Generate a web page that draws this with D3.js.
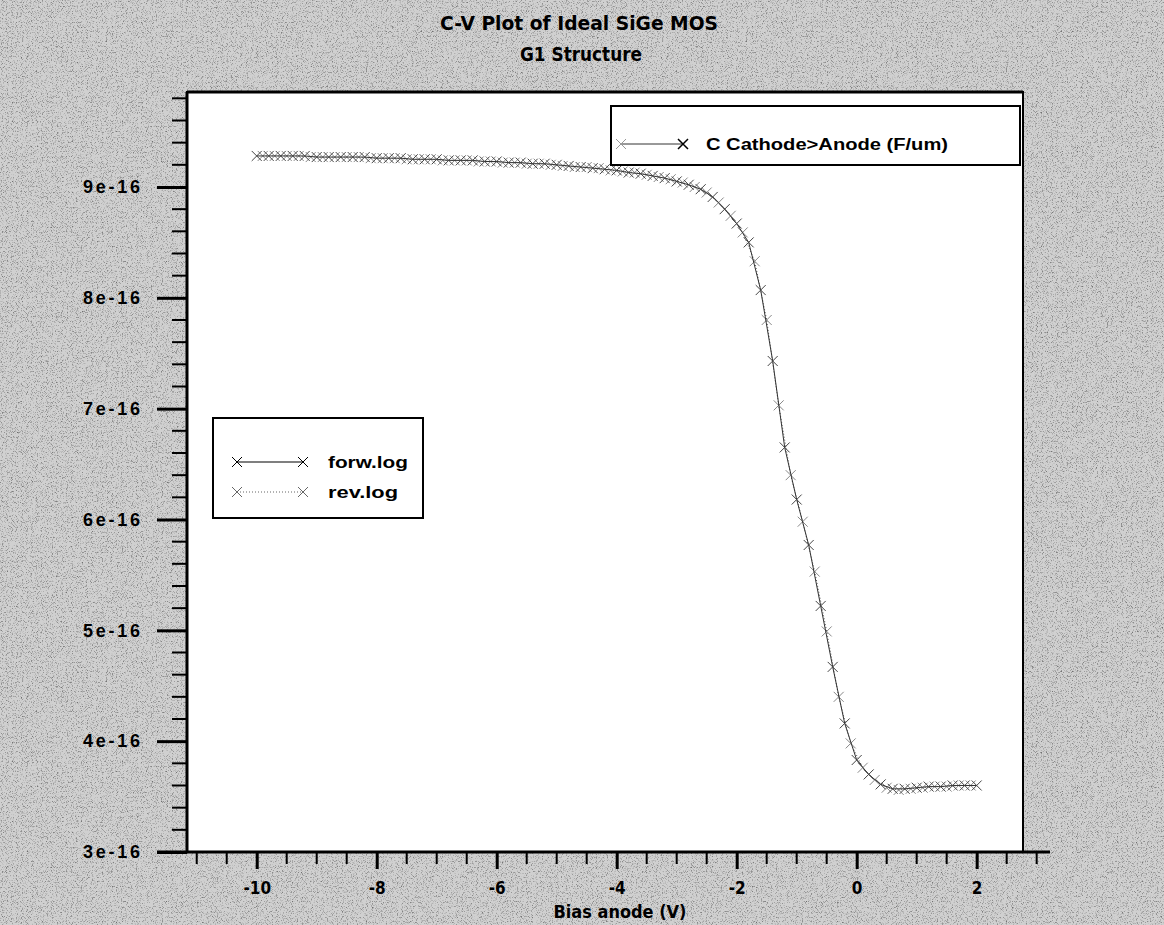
<!DOCTYPE html>
<html>
<head>
<meta charset="utf-8">
<script src="https://cdn.jsdelivr.net/npm/d3@7"></script>
<style>
  html, body { margin: 0; padding: 0; background: #c6c6c6; }
  svg { display: block; }
</style>
</head>
<body>
<svg id="chart" width="1164" height="925"></svg>
<script>
// forward sweep (forw.log), bias in V, capacitance in F/um
const forwBias = [-10, -9.8, -9.6, -9.4, -9.2, -9, -8.8, -8.6, -8.4, -8.2, -8, -7.8, -7.6, -7.4, -7.2, -7,
  -6.8, -6.6, -6.4, -6.2, -6, -5.8, -5.6, -5.4, -5.2, -5, -4.8, -4.6, -4.4, -4.2, -4, -3.8, -3.6, -3.4,
  -3.2, -3, -2.8, -2.6, -2.4, -2.2, -2, -1.8, -1.6, -1.4, -1.2, -1, -0.8, -0.6, -0.4, -0.2, 0, 0.2, 0.4,
  0.6, 0.8, 1, 1.2, 1.4, 1.6, 1.8, 2];
const forwCap = [9.28, 9.28, 9.28, 9.28, 9.28, 9.27, 9.27, 9.27, 9.27, 9.27, 9.26, 9.26, 9.26, 9.25, 9.25,
  9.25, 9.24, 9.24, 9.24, 9.23, 9.23, 9.22, 9.22, 9.21, 9.21, 9.20, 9.19, 9.18, 9.17, 9.16, 9.15, 9.13,
  9.12, 9.10, 9.08, 9.05, 9.02, 8.98, 8.91, 8.80, 8.67, 8.50, 8.07, 7.43, 6.65, 6.18, 5.77, 5.22, 4.67,
  4.16, 3.83, 3.70, 3.61, 3.57, 3.57, 3.58, 3.59, 3.59, 3.60, 3.60, 3.60].map(v => v * 1e-16);

// reverse sweep (rev.log)
const revBias = [1.9, 1.7, 1.5, 1.3, 1.1, 0.9, 0.7, 0.5, 0.3, 0.1, -0.1, -0.3, -0.5, -0.7, -0.9, -1.1,
  -1.3, -1.5, -1.7, -1.9, -2.1, -2.3, -2.5, -2.7, -2.9, -3.1, -3.3, -3.5, -3.7, -3.9, -4.1, -4.3, -4.5,
  -4.7, -4.9, -5.1, -5.3, -5.5, -5.7, -5.9, -6.1, -6.3, -6.5, -6.7, -6.9, -7.1, -7.3, -7.5, -7.7, -7.9,
  -8.1, -8.3, -8.5, -8.7, -8.9, -9.1, -9.3, -9.5, -9.7, -9.9];
const revCap = [3.60, 3.60, 3.59, 3.59, 3.58, 3.57, 3.56, 3.58, 3.65, 3.76, 3.98, 4.40, 4.99, 5.53, 5.98,
  6.40, 7.03, 7.80, 8.33, 8.59, 8.74, 8.86, 8.95, 9.00, 9.04, 9.07, 9.09, 9.11, 9.13, 9.14, 9.15, 9.17,
  9.18, 9.18, 9.19, 9.20, 9.21, 9.21, 9.22, 9.22, 9.23, 9.23, 9.24, 9.24, 9.24, 9.25, 9.25, 9.25, 9.26,
  9.26, 9.26, 9.27, 9.27, 9.27, 9.27, 9.27, 9.28, 9.28, 9.28, 9.28].map(v => v * 1e-16);

const xMajor = [-10, -8, -6, -4, -2, 0, 2];
const yMajor = [3e-16, 4e-16, 5e-16, 6e-16, 7e-16, 8e-16, 9e-16];
const xMinor = d3.range(-11, 3.01, 0.5).filter(v => !xMajor.includes(v));
const yMinor = d3.range(3.2, 9.81, 0.2).map(v => +v.toFixed(1)).filter(v => v % 1 !== 0).map(v => v * 1e-16);

const svg = d3.select("#chart");
const width = 1164, height = 925;
const frame = { left: 187, right: 1023, top: 92, bottom: 852 };

const narrow = "'Liberation Sans Narrow', 'DejaVu Sans Condensed', sans-serif";
const sans = "'Liberation Sans', Arial, sans-serif";

// grainy grey page, like the scanned halftone
const defs = svg.append("defs");
const grain = defs.append("filter").attr("id", "grain").attr("x", 0).attr("y", 0).attr("width", "100%").attr("height", "100%");
grain.append("feTurbulence").attr("type", "fractalNoise").attr("baseFrequency", 1.2).attr("numOctaves", 1).attr("seed", 3);
grain.append("feColorMatrix").attr("type", "matrix")
  .attr("values", "0 0 0 0 0  0 0 0 0 0  0 0 0 0 0  3 0 0 0 -1.55");

svg.append("rect").attr("width", width).attr("height", height).attr("fill", "#d0d0d0");
svg.append("rect").attr("width", width).attr("height", height).attr("filter", "url(#grain)").attr("opacity", 0.5);

const x = d3.scaleLinear().domain([-11.162, 2.772]).range([frame.left, frame.right]);
const y = d3.scaleLinear().domain([3e-16, 9.857e-16]).range([frame.bottom, frame.top]);

// plot frame
svg.append("rect")
  .attr("x", frame.left).attr("y", frame.top)
  .attr("width", frame.right - frame.left).attr("height", frame.bottom - frame.top)
  .attr("fill", "#fff").attr("stroke", "#000").attr("stroke-width", 2);
svg.append("line")
  .attr("x1", frame.left).attr("x2", frame.right).attr("y1", frame.top).attr("y2", frame.top)
  .attr("stroke", "#000").attr("stroke-width", 3);

// titles
svg.append("text").attr("x", 579).attr("y", 30).attr("text-anchor", "middle")
  .attr("textLength", 278).attr("lengthAdjust", "spacingAndGlyphs")
  .style("font-family", narrow).style("font-weight", "bold").style("font-size", "20px")
  .text("C-V Plot of Ideal SiGe MOS");
svg.append("text").attr("x", 581).attr("y", 61).attr("text-anchor", "middle")
  .attr("textLength", 122).attr("lengthAdjust", "spacingAndGlyphs")
  .style("font-family", narrow).style("font-weight", "bold").style("font-size", "20px")
  .text("G1 Structure");

// x axis
const xAxis = svg.append("g").attr("transform", `translate(0,${frame.bottom})`);
xAxis.append("line").attr("x1", 157).attr("x2", 1050).attr("stroke", "#000").attr("stroke-width", 3);
xAxis.selectAll("line.minor").data(xMinor).join("line").attr("class", "minor")
  .attr("x1", d => x(d)).attr("x2", d => x(d)).attr("y1", 0).attr("y2", 12)
  .attr("stroke", "#000").attr("stroke-width", 2);
xAxis.call(g => g.append("g")
  .call(d3.axisBottom(x).tickValues(xMajor).tickSize(17).tickPadding(13).tickFormat(d3.format("d")))
  .call(a => a.select(".domain").remove())
  .call(a => a.selectAll(".tick line").attr("stroke-width", 3))
  .call(a => a.selectAll(".tick text")
    .style("font-family", narrow).style("font-weight", "bold").style("font-size", "17px")
    .attr("fill", "#000").text(d => d < 0 ? "-" + Math.abs(d) : d)));

svg.append("text").attr("x", 620).attr("y", 918).attr("text-anchor", "middle")
  .attr("textLength", 133).attr("lengthAdjust", "spacingAndGlyphs")
  .style("font-family", narrow).style("font-weight", "bold").style("font-size", "18px")
  .text("Bias anode (V)");

// y axis
const yAxis = svg.append("g").attr("transform", `translate(${frame.left},0)`);
yAxis.append("line").attr("y1", frame.top).attr("y2", frame.bottom).attr("stroke", "#000").attr("stroke-width", 3);
yAxis.selectAll("line.minor").data(yMinor).join("line").attr("class", "minor")
  .attr("x1", -15).attr("x2", 0).attr("y1", d => y(d)).attr("y2", d => y(d))
  .attr("stroke", "#000").attr("stroke-width", 2);
yAxis.call(g => g.append("g")
  .call(d3.axisLeft(y).tickValues(yMajor).tickSize(30).tickPadding(17)
    .tickFormat(d => Math.round(d * 1e16) + "e-16"))
  .call(a => a.select(".domain").remove())
  .call(a => a.selectAll(".tick line").attr("stroke-width", 3))
  .call(a => a.selectAll(".tick text")
    .attr("textLength", 57).attr("lengthAdjust", "spacing")
    .style("font-family", sans).style("font-weight", "bold").style("font-size", "18px")
    .attr("fill", "#000")));

// curves
const plot = svg.append("g");
const line = d3.line().x(d => x(d[0])).y(d => y(d[1]));
const cross = "M-5,-5L5,5M-5,5L5,-5";

const forw = d3.zip(forwBias, forwCap);
const rev = d3.zip(revBias, revCap);

plot.append("path").datum(rev).attr("d", line)
  .attr("fill", "none").attr("stroke", "#555").attr("stroke-width", 1).attr("stroke-dasharray", "1,2");
plot.selectAll("path.rev").data(rev).join("path").attr("class", "rev")
  .attr("transform", d => `translate(${x(d[0])},${y(d[1])})`)
  .attr("d", cross).attr("fill", "none").attr("stroke", "#888").attr("stroke-width", 1);

plot.append("path").datum(forw).attr("d", line)
  .attr("fill", "none").attr("stroke", "#333").attr("stroke-width", 1);
plot.selectAll("path.forw").data(forw).join("path").attr("class", "forw")
  .attr("transform", d => `translate(${x(d[0])},${y(d[1])})`)
  .attr("d", cross).attr("fill", "none").attr("stroke", "#444").attr("stroke-width", 1);

// top legend
const lg1 = svg.append("g");
lg1.append("rect").attr("x", 611).attr("y", 106).attr("width", 409).attr("height", 59)
  .attr("fill", "#fff").attr("stroke", "#000").attr("stroke-width", 2);
lg1.append("line").attr("x1", 621).attr("x2", 683).attr("y1", 144).attr("y2", 144)
  .attr("stroke", "#333").attr("stroke-width", 1);
lg1.append("path").attr("transform", "translate(621,144)").attr("d", cross)
  .attr("fill", "none").attr("stroke", "#999").attr("stroke-width", 1);
lg1.append("path").attr("transform", "translate(683,144)").attr("d", cross)
  .attr("fill", "none").attr("stroke", "#000").attr("stroke-width", 1.5);
lg1.append("text").attr("x", 706).attr("y", 150).attr("textLength", 242).attr("lengthAdjust", "spacingAndGlyphs")
  .style("font-family", sans).style("font-weight", "bold").style("font-size", "16px")
  .text("C Cathode>Anode (F/um)");

// file legend
const lg2 = svg.append("g");
lg2.append("rect").attr("x", 213).attr("y", 418).attr("width", 210).attr("height", 100)
  .attr("fill", "#fff").attr("stroke", "#000").attr("stroke-width", 2);
const files = [
  { label: "forw.log", y: 462, dash: null, stroke: "#000", len: 80 },
  { label: "rev.log", y: 492, dash: "1,2", stroke: "#666", len: 70 }
];
files.forEach(f => {
  lg2.append("line").attr("x1", 237).attr("x2", 303).attr("y1", f.y).attr("y2", f.y)
    .attr("stroke", f.stroke).attr("stroke-width", 1.2).attr("stroke-dasharray", f.dash);
  [237, 303].forEach(px => lg2.append("path").attr("transform", `translate(${px},${f.y})`)
    .attr("d", cross).attr("fill", "none").attr("stroke", f.stroke).attr("stroke-width", 1));
  lg2.append("text").attr("x", 328).attr("y", f.y + 6).attr("textLength", f.len).attr("lengthAdjust", "spacingAndGlyphs")
    .style("font-family", sans).style("font-weight", "bold").style("font-size", "17px")
    .text(f.label);
});
</script>
</body>
</html>
